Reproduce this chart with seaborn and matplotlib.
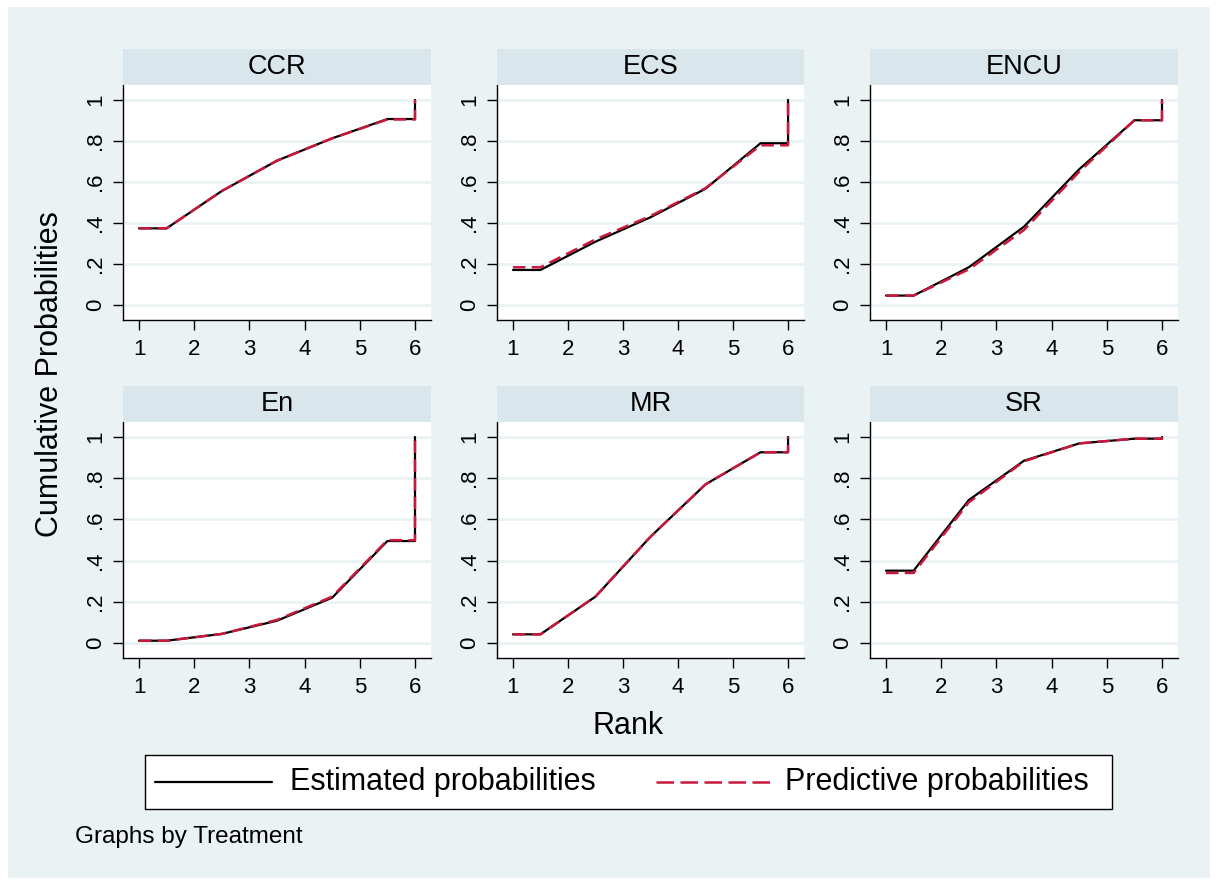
import matplotlib
matplotlib.use("Agg")
import matplotlib.pyplot as plt
from matplotlib.patches import Rectangle
from matplotlib.lines import Line2D
import seaborn as sns
import pandas as pd

# ---------------- data ----------------
treatments = ["CCR", "ECS", "ENCU", "En", "MR", "SR"]
ranks = [1, 2, 3, 4, 5, 6]

est_CCR = [0.374, 0.556, 0.704, 0.813, 0.907, 1.0]
est_ECS = [0.171, 0.309, 0.428, 0.567, 0.789, 1.0]
est_ENCU = [0.046, 0.184, 0.382, 0.662, 0.901, 1.0]
est_En = [0.011, 0.044, 0.108, 0.220, 0.495, 1.0]
est_MR = [0.042, 0.225, 0.516, 0.770, 0.926, 1.0]
est_SR = [0.351, 0.694, 0.885, 0.969, 0.992, 1.0]

pred_CCR = [0.374, 0.556, 0.704, 0.813, 0.905, 1.0]
pred_ECS = [0.184, 0.320, 0.434, 0.570, 0.779, 1.0]
pred_ENCU = [0.046, 0.174, 0.366, 0.650, 0.901, 1.0]
pred_En = [0.011, 0.044, 0.112, 0.225, 0.499, 1.0]
pred_MR = [0.042, 0.225, 0.516, 0.770, 0.926, 1.0]
pred_SR = [0.340, 0.683, 0.882, 0.969, 0.992, 1.0]

estimated = [est_CCR, est_ECS, est_ENCU, est_En, est_MR, est_SR]
predictive = [pred_CCR, pred_ECS, pred_ENCU, pred_En, pred_MR, pred_SR]

ytick_vals = [0, 0.2, 0.4, 0.6, 0.8, 1.0]
ytick_labels = ["0", ".2", ".4", ".6", ".8", "1"]
xtick_labels = ["1", "2", "3", "4", "5", "6"]


def staircase(vals):
    # cumulative curve drawn between rank midpoints, as in the source graph
    xs = [ranks[0], ranks[0] + 0.5] + [r + 0.5 for r in ranks[1:-1]] + [ranks[-1], ranks[-1]]
    ys = [vals[0], vals[0]] + list(vals[1:-1]) + [vals[-2], vals[-1]]
    return pd.DataFrame({"x": xs, "y": ys})


# ---------------- style ----------------
sns.set_theme(style="white")
plt.rcParams["font.family"] = ["Liberation Sans", "DejaVu Sans"]

W, H = 1217, 883
fig = plt.figure(figsize=(W / 100, H / 100), dpi=100, facecolor="white")

BG = "#EAF2F3"
STRIP = "#D9E6EB"
GRID = "#EAF2F3"
RED = "#C8193C"

fig.patches.append(Rectangle((8 / W, 1 - 878 / H), (1210 - 8) / W, (878 - 7) / H,
                             transform=fig.transFigure, facecolor=BG,
                             edgecolor="none", zorder=-10))

cols = [(123, 431), (497, 804), (870, 1178)]
rows = [(85, 320), (422, 658)]
strip_h = 36

for i, name in enumerate(treatments):
    r, c = divmod(i, 3)
    x0, x1 = cols[c]
    y0, y1 = rows[r]
    ax = fig.add_axes([x0 / W, 1 - y1 / H, (x1 - x0) / W, (y1 - y0) / H])
    ax.set_facecolor("white")

    for yv in ytick_vals:
        ax.axhline(yv, color=GRID, lw=2.0, zorder=0)

    sns.lineplot(data=staircase(estimated[i]), x="x", y="y", ax=ax, sort=False,
                 estimator=None, color="black", lw=1.6, zorder=3)
    sns.lineplot(data=staircase(predictive[i]), x="x", y="y", ax=ax, sort=False,
                 estimator=None, color=RED, lw=1.8, zorder=4)
    ax.lines[-1].set_dashes([5, 2.5])

    ax.set_xlim(0.71, 6.29)
    ax.set_ylim(-0.073, 1.073)
    ax.set_xticks(ranks)
    ax.set_xticklabels(xtick_labels)
    ax.set_yticks(ytick_vals)
    ax.set_yticklabels(ytick_labels, rotation=90, va="center")
    ax.set_xlabel("")
    ax.set_ylabel("")
    for s in ["top", "right"]:
        ax.spines[s].set_visible(False)
    for s in ["left", "bottom"]:
        ax.spines[s].set_color("black")
        ax.spines[s].set_linewidth(1.0)
    ax.tick_params(axis="both", direction="out", length=7, width=1.0,
                   color="black", labelsize=16, labelcolor="black", pad=5,
                   left=True, bottom=True)
    ax.tick_params(axis="x", pad=7)
    ax.grid(False)

    # strip
    fig.patches.append(Rectangle((x0 / W, 1 - y0 / H), (x1 - x0) / W, strip_h / H,
                                 transform=fig.transFigure, facecolor=STRIP,
                                 edgecolor="none", zorder=1))
    fig.text((x0 + x1) / 2 / W, 1 - (y0 - strip_h / 2) / H, name, ha="center",
             va="center", fontsize=19.5, color="black")

fig.text(50 / W, 1 - 374 / H, "Cumulative Probabilities", rotation=90,
         ha="center", va="center", fontsize=22, color="black")
fig.text(628 / W, 1 - 726 / H, "Rank", ha="center", va="center",
         fontsize=22, color="black")
fig.text(75 / W, 1 - 837 / H, "Graphs by Treatment", ha="left", va="center",
         fontsize=17.5, color="black")

# legend
lx0, lx1, ly0, ly1 = 145, 1112, 755, 809
fig.patches.append(Rectangle((lx0 / W, 1 - ly1 / H), (lx1 - lx0) / W, (ly1 - ly0) / H,
                             transform=fig.transFigure, facecolor="white",
                             edgecolor="black", lw=1.0, zorder=2))
ly = 1 - 782 / H
fig.lines.append(Line2D([155 / W, 272 / W], [ly, ly], transform=fig.transFigure,
                        color="black", lw=1.6, zorder=3))
fig.lines.append(Line2D([656 / W, 772 / W], [ly, ly], transform=fig.transFigure,
                        color=RED, lw=1.8, dashes=[7, 2.6], zorder=3))
fig.text(290 / W, ly, "Estimated probabilities", ha="left", va="center",
         fontsize=22, color="black", zorder=4)
fig.text(785 / W, ly, "Predictive probabilities", ha="left", va="center",
         fontsize=22, color="black", zorder=4)

fig.savefig("out.png", dpi=100, facecolor="white")
